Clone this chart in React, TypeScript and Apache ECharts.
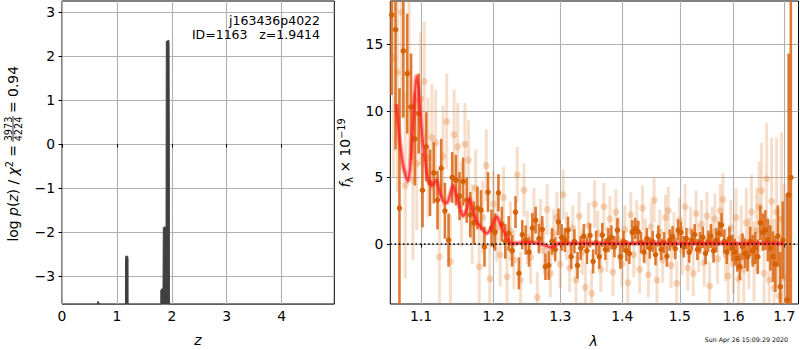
import React, { useEffect, useRef } from "react";
import * as echarts from "echarts";

const FONT = "DejaVu Sans";

// ---- left panel: log p(z)
const zTicks = [0, 1, 2, 3, 4];
const logpTicks = [-3, -2, -1, 0, 1, 2, 3];
const pzZ = [0, 0.625, 0.64, 0.655, 0.665, 0.68, 0.695, 1.152, 1.157, 1.165, 1.198, 1.203, 1.207, 1.795, 1.8, 1.805, 1.84, 1.845, 1.85, 1.885, 1.895, 1.9, 1.945, 1.95, 1.955, 1.96, 4.96];
const pzLogP = [-9, -9, -3.63, -3.57, -3.56, -3.62, -9, -9, -2.6, -2.54, -2.55, -2.6, -9, -9, -3.32, -3.3, -3.28, -1.92, -1.89, -1.88, -1.9, 2.33, 2.36, 2.3, 0.0, -9, -9];

// ---- right panel: spectrum
const lamTicks = [1.1, 1.2, 1.3, 1.4, 1.5, 1.6, 1.7];
const fluxTicks = [0, 5, 10, 15];

const darkLam = [
  1.062, 1.067, 1.072, 1.077, 1.082, 1.087, 1.092, 1.097, 1.102, 1.107,
  1.112, 1.117, 1.122, 1.127, 1.132, 1.137, 1.142, 1.147, 1.152, 1.157,
  1.162, 1.167, 1.172, 1.177, 1.182, 1.187, 1.192, 1.197, 1.202, 1.207,
  1.212, 1.217, 1.222, 1.227, 1.232, 1.237, 1.242, 1.247, 1.252, 1.257,
  1.262, 1.267, 1.272, 1.277, 1.282, 1.287, 1.292, 1.297, 1.302, 1.307,
  1.312, 1.317, 1.322, 1.327, 1.332, 1.337, 1.342, 1.347, 1.352, 1.357,
  1.362, 1.367, 1.372, 1.377, 1.382, 1.387, 1.392, 1.397, 1.402, 1.407,
  1.412, 1.417, 1.422, 1.427, 1.432, 1.437, 1.442, 1.447, 1.452, 1.457,
  1.462, 1.467, 1.472, 1.477, 1.482, 1.487, 1.492, 1.497, 1.502, 1.507,
  1.512, 1.517, 1.522, 1.527, 1.532, 1.537, 1.542, 1.547, 1.552, 1.557,
  1.562, 1.567, 1.572, 1.577, 1.582, 1.587, 1.592, 1.597, 1.602, 1.607,
  1.612, 1.617, 1.622, 1.627, 1.632, 1.637, 1.642, 1.647, 1.652, 1.657,
  1.662, 1.667, 1.672, 1.677, 1.682, 1.687, 1.692, 1.697, 1.7055, 1.709, 1.7135,
];
const darkFlux = [
  17.2, 16.1, 2.7, 14.5, 12.8, 10.3, 7.9, 9.8, 4.05, 7.3,
  4.6, 5.35, 3.3, 5.7, 2.5, 0.3, 5.0, 4.8, 3.6, 4.7,
  3.3, 2.2, 1.6, 2.7, 2.55, -0.2, 3.9, 1.2, 0.9, 3.85,
  1.5, 0.2, 0.8, -0.5, 2.4, -2.2, 0.7, 0.3, -0.6, 1.2,
  1.8, 0.4, 1.1, -1.7, -1.6, 0.2, -0.4, 1.67, 0.5, 0.3,
  1.05, -0.95, 0.2, -1.6, -0.3, 0.6, -0.5, 0.65, -1.3, 0.1,
  -0.95, 0.68, -0.4, 0.3, 0.5, -0.2, 1.05, -0.95, 0.2, -0.5,
  -0.7, 0.9, 1.18, 0.93, 0.1, -0.6, 0.4, -0.3, 0.2, -0.8,
  0.6, -0.4, 0.1, -0.9, 0.3, 0.55, -0.35, 1.05, 0.88, -0.2,
  0.4, -0.6, 0.3, 0.7, -0.4, 0.1, 0.5, -0.7, 0.2, 0.6,
  -0.5, 0.3, 0.8, 1.43, 0.2, -0.6, 0.4, -0.3, -0.6, -1.07,
  -1.7, -0.2, -0.7, -0.95, 0.2, -0.5, -0.3, -0.95, 1.6, 0.9,
  1.05, 0.3, -0.3, -0.95, -1.5, 0.6, -3.2, 0.3, -4.2, 3.7, 5,
];
const darkErr = [
  6, 9, 9, 5, 4.5, 4, 3.5, 3, 2.8, 2.6,
  2.5, 2.3, 2.2, 2.2, 2.1, 2.0, 1.9, 1.9, 1.8, 1.8,
  1.7, 1.7, 1.6, 1.6, 1.5, 1.5, 1.5, 1.4, 1.4, 1.4,
  1.3, 1.3, 1.3, 1.2, 1.2, 1.2, 1.1, 1.1, 1.1, 1.1,
  1.0, 1.1, 1.0, 1.0, 1.1, 1.0, 0.9, 1.0, 1.0, 0.9,
  1.0, 0.9, 0.9, 1.0, 0.9, 0.9, 1.0, 0.9, 0.9, 0.9,
  0.9, 0.9, 0.8, 0.9, 0.9, 0.8, 0.9, 0.9, 0.8, 0.8,
  0.8, 0.9, 0.8, 0.8, 0.8, 0.8, 0.8, 0.8, 0.8, 0.8,
  0.8, 0.8, 0.8, 0.8, 0.8, 0.8, 0.8, 0.8, 0.8, 0.8,
  0.8, 0.8, 0.8, 0.8, 0.8, 0.8, 0.8, 0.8, 0.8, 0.9,
  0.9, 0.9, 0.9, 0.9, 0.9, 0.9, 0.9, 1.0, 1.0, 1.0,
  1.0, 1.0, 1.1, 1.1, 1.1, 1.2, 1.2, 1.3, 1.3, 1.4,
  1.5, 1.6, 1.7, 1.9, 2.1, 2.3, 2.6, 2.9, 8, 10.6, 40,
];

const lightLam = [
  1.0645, 1.0695, 1.0745, 1.0795, 1.0845, 1.0895, 1.0945, 1.0995, 1.1045, 1.1095,
  1.1145, 1.1195, 1.1245, 1.1295, 1.1345, 1.1395, 1.1445, 1.1495, 1.1545, 1.1595,
  1.1645, 1.1695, 1.1745, 1.1795, 1.1845, 1.1895, 1.1945, 1.1995, 1.2045, 1.2095,
  1.2145, 1.2195, 1.2245, 1.2295, 1.2345, 1.2395, 1.2445, 1.2495, 1.2545, 1.2595,
  1.2645, 1.2695, 1.2745, 1.2795, 1.2845, 1.2895, 1.2945, 1.2995, 1.3045, 1.3095,
  1.3145, 1.3195, 1.3245, 1.3295, 1.3345, 1.3395, 1.3445, 1.3495, 1.3545, 1.3595,
  1.3645, 1.3695, 1.3745, 1.3795, 1.3845, 1.3895, 1.3945, 1.3995, 1.4045, 1.4095,
  1.4145, 1.4195, 1.4245, 1.4295, 1.4345, 1.4395, 1.4445, 1.4495, 1.4545, 1.4595,
  1.4645, 1.4695, 1.4745, 1.4795, 1.4845, 1.4895, 1.4945, 1.4995, 1.5045, 1.5095,
  1.5145, 1.5195, 1.5245, 1.5295, 1.5345, 1.5395, 1.5445, 1.5495, 1.5545, 1.5595,
  1.5645, 1.5695, 1.5745, 1.5795, 1.5845, 1.5895, 1.5945, 1.5995, 1.6045, 1.6095,
  1.6145, 1.6195, 1.6245, 1.6295, 1.6345, 1.6395, 1.6445, 1.6495, 1.6545, 1.6595,
  1.6645, 1.6695, 1.6745, 1.6795, 1.6845, 1.6895, 1.6945, 1.6995,
];
const lightFlux = [
  14.0, 12.9, 17.4, 4.4, 12.9, 4.8, 6.05, 10.9, 12.2, 6.5,
  8.0, 7.6, -0.95, 6.6, 9.2, -1.3, 8.2, 7.3, 3.0, 7.5,
  6.3, 1.5, 4.2, -1.7, 2.0, 5.9, -2.6, 3.0, 1.2, -0.8,
  3.5, -2.45, 1.0, -1.2, 5.2, -2.7, 4.05, 0.5, -1.0, 2.2,
  -4.0, 1.5, -0.5, 2.6, -2.2, 0.8, 2.0, -1.5, 3.7, 0.6,
  -1.8, 1.2, -2.7, 2.1, -0.6, -3.25, 1.4, -3.7, 3.0, 0.8,
  -1.9, 2.8, -0.4, 1.9, -2.1, 2.4, 0.3, -1.5, 1.1, -2.9,
  2.2, -0.8, 1.6, -1.9, 2.7, 0.2, -2.3, 1.3, 3.3, -2.7,
  0.9, -1.2, 2.0, 2.5, -1.6, 0.7, -2.95, 1.8, -0.5, 2.8,
  -1.8, 1.0, -2.2, 2.3, -0.3, 1.5, -1.4, 2.1, -3.15, 0.9,
  1.9, -1.1, 2.5, 3.35, -0.8, -2.4, 1.2, -1.5, 2.0, -2.6,
  0.5, -1.9, 1.6, -0.7, 2.4, -1.3, 1.0, 2.8, 4.0, -2.2,
  4.9, -2.7, 3.2, -3.3, 2.4, -3.9, 1.9, -2.5,
];
const lightErr = [
  9, 9, 8, 7, 7, 6, 5, 5, 4.5, 4.5,
  4, 4, 4, 3.8, 3.6, 3.5, 3.4, 3.3, 3.2, 3.1,
  3.0, 3.0, 2.9, 2.8, 2.7, 2.7, 2.6, 2.5, 2.5, 2.4,
  2.3, 2.3, 2.2, 2.2, 2.1, 2.1, 2.0, 2.0, 2.0, 2.0,
  1.9, 1.9, 1.8, 1.9, 1.8, 1.8, 1.9, 1.8, 1.9, 1.8,
  1.8, 1.7, 1.8, 1.8, 1.7, 1.8, 1.7, 1.8, 1.8, 1.7,
  1.7, 1.8, 1.7, 1.7, 1.8, 1.7, 1.7, 1.7, 1.8, 1.7,
  1.7, 1.7, 1.7, 1.8, 1.7, 1.7, 1.7, 1.8, 1.7, 1.7,
  1.7, 1.7, 1.7, 1.8, 1.7, 1.7, 1.7, 1.7, 1.8, 1.7,
  1.7, 1.8, 1.7, 1.7, 1.8, 1.8, 1.8, 1.8, 1.8, 1.9,
  1.9, 1.9, 2.0, 2.0, 2.0, 2.1, 2.1, 2.2, 2.2, 2.3,
  2.4, 2.5, 2.6, 2.7, 2.8, 3.0, 3.2, 3.4, 3.6, 3.9,
  4.2, 4.5, 4.8, 5.2, 5.6, 6.0, 6.5, 7.0,
];

const modelLam = [
  1.068, 1.072, 1.077, 1.083, 1.087, 1.091, 1.094, 1.097, 1.101, 1.105,
  1.109, 1.114, 1.118, 1.121, 1.125, 1.13, 1.135, 1.14, 1.143, 1.148,
  1.152, 1.157, 1.162, 1.166, 1.17, 1.176, 1.183, 1.19, 1.196, 1.201,
  1.205, 1.209, 1.214, 1.22, 1.226, 1.24, 1.255, 1.265, 1.275, 1.283,
  1.29, 1.298, 1.35, 1.4, 1.45, 1.5, 1.55, 1.6, 1.65, 1.7,
];
const modelFlux = [
  10.5, 8.0, 5.8, 4.7, 6.5, 10.5, 12.6, 11.5, 8.5, 6.5,
  5.0, 4.4, 4.6, 4.8, 3.9, 3.2, 3.1, 3.9, 4.4, 3.6,
  2.8, 2.1, 2.6, 3.4, 2.6, 1.7, 1.2, 0.8, 1.1, 1.8,
  2.05, 1.6, 1.05, 0.4, 0.05, 0.1, 0.12, 0.08, -0.05, -0.25,
  -0.15, 0.05, 0.08, 0.05, 0.08, 0.05, 0.07, 0.05, 0.06, 0.05,
];

const lamMin = 1.0603;
const lamMax = 1.7293;
const zeroLine = [0, 0];

const zip2 = (a: number[], b: number[]) => a.map((v, i) => [v, b[i]]);
const zip3 = (a: number[], b: number[], c: number[]) => a.map((v, i) => [v, b[i], c[i]]);

const fmtMinus = (v: number) => (v < 0 ? "\u2212" + Math.abs(v) : String(v));

function errRenderer(color: string, width: number, opacity: number) {
  return (params: any, api: any) => {
    const x = api.value(0);
    const y = api.value(1);
    const e = api.value(2);
    const a = api.coord([x, y - e]);
    const b = api.coord([x, y + e]);
    const cs = params.coordSys;
    if (a[0] < cs.x || a[0] > cs.x + cs.width) return null;
    const top = cs.y;
    const bot = cs.y + cs.height;
    const y1 = Math.min(Math.max(a[1], top), bot);
    const y2 = Math.min(Math.max(b[1], top), bot);
    if (y1 === y2) return null;
    return {
      type: "line",
      shape: { x1: a[0], y1, x2: a[0], y2 },
      style: { stroke: color, lineWidth: width, opacity },
    };
  };
}

export default function App() {
  const ref = useRef<HTMLDivElement>(null);

  useEffect(() => {
    if (!ref.current) return;
    const chart = echarts.init(ref.current, null, { renderer: "svg" });

    const tickStyle = { color: "#000", width: 1 };
    const labelBase = { color: "#000", fontFamily: FONT, fontSize: 13.9 };
    const split = { show: true, lineStyle: { color: "#b0b0b0", width: 1.1 } };

    const n = { fontFamily: FONT, fontSize: 13.9, color: "#000", lineHeight: 18 };
    const it = { ...n, fontStyle: "italic" };
    const sup = { fontFamily: FONT, fontSize: 9.7, color: "#000", lineHeight: 11, verticalAlign: "top" };
    const sub = { fontFamily: FONT, fontSize: 9.7, color: "#000", lineHeight: 11, verticalAlign: "bottom" };

    const option: any = {
      animation: false,
      grid: [
        { left: 62, top: 1, width: 272.3, height: 303, show: true, borderColor: "#000", borderWidth: 1, containLabel: false, outerBoundsMode: "none" },
        { left: 390.3, top: 1, width: 408.2, height: 303, show: true, borderColor: "#000", borderWidth: 1, containLabel: false, outerBoundsMode: "none" },
      ],
      xAxis: [
        {
          type: "value", gridIndex: 0, min: 0, max: 4.96,
          axisLine: { show: false },
          axisTick: { show: true, customValues: zTicks, length: 3.5, lineStyle: tickStyle },
          axisLabel: { ...labelBase, customValues: zTicks, formatter: fmtMinus, margin: 5 },
          splitLine: split,
        },
        {
          type: "log", logBase: 10, gridIndex: 1, min: lamMin, max: lamMax,
          axisLine: { show: false },
          axisTick: { show: true, customValues: lamTicks, length: 3.5, lineStyle: tickStyle },
          axisLabel: { ...labelBase, customValues: lamTicks, formatter: (v: number) => v.toFixed(1), margin: 5 },
          splitLine: split,
        },
      ],
      yAxis: [
        {
          type: "value", gridIndex: 0, min: -3.63, max: 3.25,
          axisLine: { show: false },
          axisTick: { show: true, customValues: logpTicks, length: 3.5, lineStyle: tickStyle },
          axisLabel: { ...labelBase, customValues: logpTicks, formatter: fmtMinus, margin: 7 },
          splitLine: split,
        },
        {
          type: "value", gridIndex: 1, min: -4.5, max: 18.25,
          axisLine: { show: false },
          axisTick: { show: true, customValues: fluxTicks, length: 3.5, lineStyle: tickStyle },
          axisLabel: { ...labelBase, customValues: fluxTicks, formatter: fmtMinus, margin: 7 },
          splitLine: split,
        },
      ],
      series: [
        {
          type: "line", xAxisIndex: 0, yAxisIndex: 0, data: zip2(pzZ, pzLogP),
          showSymbol: false, symbol: "none", clip: true,
          lineStyle: { color: "#404040", width: 1 },
          areaStyle: { color: "#404040", opacity: 1, origin: "start" },
          z: 2,
        },
        {
          type: "custom", xAxisIndex: 1, yAxisIndex: 1, data: zip3(lightLam, lightFlux, lightErr),
          encode: { x: 0, y: 1 }, renderItem: errRenderer("#e07a2a", 3, 0.25), z: 2,
        },
        {
          type: "scatter", xAxisIndex: 1, yAxisIndex: 1, data: zip2(lightLam, lightFlux),
          symbolSize: 7, itemStyle: { color: "#e07a2a", opacity: 0.3 }, z: 3,
        },
        {
          type: "custom", xAxisIndex: 1, yAxisIndex: 1, data: zip3(darkLam, darkFlux, darkErr),
          encode: { x: 0, y: 1 }, renderItem: errRenderer("#dc6b1c", 2.6, 0.9), z: 4,
        },
        {
          type: "scatter", xAxisIndex: 1, yAxisIndex: 1, data: zip2(darkLam, darkFlux),
          symbolSize: 5.5, itemStyle: { color: "#d45f00", opacity: 0.95 }, z: 5,
        },
        {
          type: "line", xAxisIndex: 1, yAxisIndex: 1, data: zip2(modelLam, modelFlux),
          showSymbol: false, symbol: "none", smooth: 0.2,
          lineStyle: { color: "#ff2020", width: 5, opacity: 0.35 }, z: 6,
        },
        {
          type: "line", xAxisIndex: 1, yAxisIndex: 1, data: zip2(modelLam, modelFlux),
          showSymbol: false, symbol: "none", smooth: 0.2,
          lineStyle: { color: "#ff2020", width: 2.2, opacity: 0.75 }, z: 7,
        },
        {
          type: "line", xAxisIndex: 1, yAxisIndex: 1, data: zip2([lamMin, lamMax], zeroLine),
          showSymbol: false, symbol: "none",
          lineStyle: { color: "#000", width: 1.6, type: [1.6, 2.6] }, z: 8,
        },
      ],
      graphic: [
        {
          type: "text", x: 320, y: 20, z: 20,
          style: { text: "j163436p4022", fill: "#000", fontFamily: FONT, fontSize: 12.5, align: "right", textAlign: "right", verticalAlign: "middle", textVerticalAlign: "middle" },
        },
        {
          type: "text", x: 247.5, y: 34.5, z: 20,
          style: { text: "ID=1163", fill: "#000", fontFamily: FONT, fontSize: 12.5, align: "right", textAlign: "right", verticalAlign: "middle", textVerticalAlign: "middle" },
        },
        {
          type: "text", x: 320, y: 34.5, z: 20,
          style: { text: "z=1.9414", fill: "#000", fontFamily: FONT, fontSize: 12.5, align: "right", textAlign: "right", verticalAlign: "middle", textVerticalAlign: "middle" },
        },
        {
          type: "text", x: 198, y: 340,
          style: { text: "z", fill: "#000", fontFamily: FONT, fontSize: 13.9, fontStyle: "italic", align: "center", textAlign: "center", verticalAlign: "middle", textVerticalAlign: "middle" },
        },
        {
          type: "text", x: 593.5, y: 340.5,
          style: { text: "λ", fill: "#000", fontFamily: FONT, fontSize: 13.9, fontStyle: "italic", align: "center", textAlign: "center", verticalAlign: "middle", textVerticalAlign: "middle" },
        },
        {
          type: "text", x: 788, y: 339.5,
          style: { text: "Sun Apr 26 15:09:29 2020", fill: "#000", fontFamily: FONT, fontSize: 6.3, align: "right", textAlign: "right", verticalAlign: "middle", textVerticalAlign: "middle" },
        },
        {
          type: "group", x: 13.3, y: 129, rotation: Math.PI / 2,
          children: [
            {
              type: "text", x: -16, y: 0,
              style: {
                text: "{n|log }{i|p}{n|(}{i|z}{n|) / }{i|χ}{s|2}{n| =}",
                rich: { n, i: it, s: sup },
                align: "right", textAlign: "right", verticalAlign: "middle", textVerticalAlign: "middle",
              },
            },
            {
              type: "text", x: 0, y: -5,
              style: { text: "3973", fill: "#000", fontFamily: FONT, fontSize: 9.7, align: "center", textAlign: "center", verticalAlign: "middle", textVerticalAlign: "middle" },
            },
            { type: "line", shape: { x1: -13, y1: -0.3, x2: 13, y2: -0.3 }, style: { stroke: "#000", lineWidth: 0.8 } },
            {
              type: "text", x: 0, y: 4.8,
              style: { text: "4224", fill: "#000", fontFamily: FONT, fontSize: 9.7, align: "center", textAlign: "center", verticalAlign: "middle", textVerticalAlign: "middle" },
            },
            {
              type: "text", x: 16, y: 0,
              style: { text: "= 0.94", fill: "#000", fontFamily: FONT, fontSize: 13.9, align: "left", textAlign: "left", verticalAlign: "middle", textVerticalAlign: "middle" },
            },
          ],
        },
        {
          type: "text", x: 345, y: 153, rotation: Math.PI / 2,
          style: {
            text: "{i|f}{b|λ}{n| × 10}{s|−19}",
            rich: { n, i: it, b: sub, s: sup },
            align: "center", textAlign: "center", verticalAlign: "middle", textVerticalAlign: "middle",
          },
        },
      ],
    };

    chart.setOption(option);
    return () => chart.dispose();
  }, []);

  return (
    <div
      ref={ref}
      style={{ position: "fixed", left: 0, top: 0, width: 800, height: 350, background: "#fff" }}
    />
  );
}
